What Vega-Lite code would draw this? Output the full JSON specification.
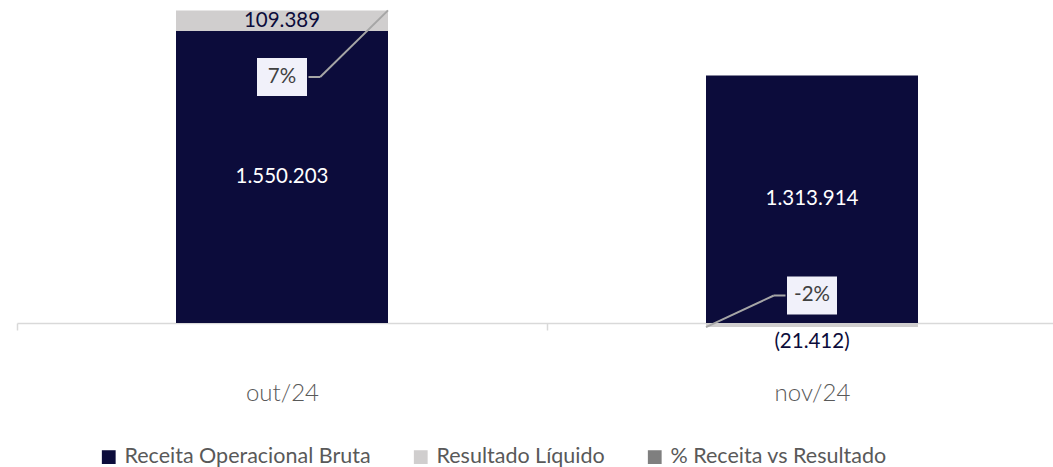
{
  "$schema": "https://vega.github.io/schema/vega-lite/v6.json",
  "width": 1036,
  "height": 323,
  "autosize": {"type": "none"},
  "padding": {"left": 17, "top": 0, "right": 0, "bottom": 144},
  "config": {
    "view": {"stroke": null},
    "locale": {"number": {"decimal": ",", "thousands": ".", "grouping": [3], "currency": ["R$", ""], "minus": "-"}},
    "text": {"font": "Lato", "fontSize": 20.5}
  },
  "data": {
    "values": [
      {"mes": "out/24", "receita": 1550203, "resultado": 109389, "pct": 0.0706},
      {"mes": "nov/24", "receita": 1313914, "resultado": -21412, "pct": -0.0163}
    ]
  },
  "transform": [
    {"calculate": "datum.mes == 'out/24' ? 0 : 1", "as": "idx"},
    {"calculate": "datum.resultado > 0 ? 1 : -1", "as": "sgn"},
    {"calculate": "datum.mes == 'out/24' ? 1306000 : 146000", "as": "labY"},
    {"calculate": "datum.idx + 0.5 + 0.2 * datum.sgn", "as": "cornerX"},
    {"calculate": "datum.resultado > 0 ? datum.receita + datum.resultado : datum.resultado", "as": "cornerY"},
    {"calculate": "datum.idx + 0.5 + 0.072 * datum.sgn", "as": "elbowX"},
    {"calculate": "datum.idx + 0.5 + 0.05 * datum.sgn", "as": "edgeX"}
  ],
  "resolve": {"scale": {"x": "independent"}},
  "layer": [
    {
      "transform": [
        {"fold": ["receita", "resultado"], "as": ["k", "valor"]},
        {"calculate": "datum.k == 'receita' ? 'Receita Operacional Bruta' : 'Resultado Líquido'", "as": "serie"}
      ],
      "mark": {"type": "bar", "width": {"band": 0.4}},
      "encoding": {
        "x": {
          "field": "mes", "type": "nominal",
          "scale": {"domain": ["out/24", "nov/24"], "range": [0, 1060], "paddingInner": 0, "paddingOuter": 0},
          "axis": {
            "title": null, "labelAngle": 0, "tickBand": "extent", "tickSize": 7,
            "tickColor": "#d9d9d9", "domainColor": "#d9d9d9", "domainWidth": 1.5, "tickWidth": 1.5,
            "labelFont": "Lato", "labelFontWeight": 300, "labelFontSize": 24, "labelColor": "#595959",
            "labelPadding": 51
          }
        },
        "y": {
          "field": "valor", "type": "quantitative", "stack": "zero",
          "scale": {"domain": [0, 1714800], "nice": false, "zero": false},
          "axis": null
        },
        "order": {"field": "k", "type": "nominal", "sort": "ascending"},
        "color": {
          "field": "serie", "type": "nominal",
          "scale": {"domain": ["Receita Operacional Bruta", "Resultado Líquido", "% Receita vs Resultado"], "range": ["#0c0c3b", "#d0cece", "#7f7f7f"]},
          "legend": {
            "title": null, "orient": "none", "legendX": 81, "legendY": 446, "direction": "horizontal",
            "symbolType": "square", "symbolSize": 190, "symbolStrokeWidth": 0,
            "labelFont": "Lato", "labelFontSize": 21.5, "labelColor": "#595959", "labelOffset": 5,
            "labelLimit": 400, "columnPadding": 39
          }
        }
      }
    },
    {
      "transform": [{"calculate": "datum.receita / 2", "as": "midY"}],
      "mark": {"type": "text", "color": "white"},
      "encoding": {
        "x": {"field": "mes", "type": "nominal", "scale": {"domain": ["out/24", "nov/24"], "range": [0, 1060], "paddingInner": 0, "paddingOuter": 0}, "axis": null},
        "y": {"field": "midY", "type": "quantitative", "scale": {"domain": [0, 1714800], "nice": false, "zero": false}},
        "text": {"field": "receita", "type": "quantitative", "format": ",.0f"}
      }
    },
    {
      "transform": [{"filter": "datum.resultado > 0"}, {"calculate": "datum.receita + datum.resultado / 2", "as": "midY"}],
      "mark": {"type": "text", "color": "#0c0c3b"},
      "encoding": {
        "x": {"field": "mes", "type": "nominal", "scale": {"domain": ["out/24", "nov/24"], "range": [0, 1060], "paddingInner": 0, "paddingOuter": 0}, "axis": null},
        "y": {"field": "midY", "type": "quantitative", "scale": {"domain": [0, 1714800], "nice": false, "zero": false}},
        "text": {"field": "resultado", "type": "quantitative", "format": "(,.0f"}
      }
    },
    {
      "transform": [{"filter": "datum.resultado < 0"}],
      "mark": {"type": "text", "color": "#0c0c3b", "baseline": "top", "dy": 5},
      "encoding": {
        "x": {"field": "mes", "type": "nominal", "scale": {"domain": ["out/24", "nov/24"], "range": [0, 1060], "paddingInner": 0, "paddingOuter": 0}, "axis": null},
        "y": {"field": "resultado", "type": "quantitative", "scale": {"domain": [0, 1714800], "nice": false, "zero": false}},
        "text": {"field": "resultado", "type": "quantitative", "format": "(,.0f"}
      }
    },
    {
      "mark": {"type": "rule", "color": "#a6a6a6", "strokeWidth": 2},
      "encoding": {
        "x": {"field": "cornerX", "type": "quantitative", "scale": {"domain": [0, 2], "range": [0, 1060], "nice": false, "zero": false}, "axis": null},
        "x2": {"field": "elbowX"},
        "y": {"field": "cornerY", "type": "quantitative", "scale": {"domain": [0, 1714800], "nice": false, "zero": false}},
        "y2": {"field": "labY"}
      }
    },
    {
      "mark": {"type": "rule", "color": "#a6a6a6", "strokeWidth": 2},
      "encoding": {
        "x": {"field": "elbowX", "type": "quantitative", "scale": {"domain": [0, 2], "range": [0, 1060], "nice": false, "zero": false}, "axis": null},
        "x2": {"field": "edgeX"},
        "y": {"field": "labY", "type": "quantitative", "scale": {"domain": [0, 1714800], "nice": false, "zero": false}}
      }
    },
    {
      "mark": {"type": "point", "shape": "M-1.25,-0.95H1.25V0.95H-1.25Z", "size": 1600, "filled": true, "color": "#f1f1fa", "opacity": 1, "strokeWidth": 0},
      "encoding": {
        "x": {"field": "mes", "type": "nominal", "scale": {"domain": ["out/24", "nov/24"], "range": [0, 1060], "paddingInner": 0, "paddingOuter": 0}, "axis": null},
        "y": {"field": "labY", "type": "quantitative", "scale": {"domain": [0, 1714800], "nice": false, "zero": false}}
      }
    },
    {
      "mark": {"type": "text", "color": "#404040"},
      "encoding": {
        "x": {"field": "mes", "type": "nominal", "scale": {"domain": ["out/24", "nov/24"], "range": [0, 1060], "paddingInner": 0, "paddingOuter": 0}, "axis": null},
        "y": {"field": "labY", "type": "quantitative", "scale": {"domain": [0, 1714800], "nice": false, "zero": false}},
        "text": {"field": "pct", "type": "quantitative", "format": ".0%"}
      }
    }
  ]
}
